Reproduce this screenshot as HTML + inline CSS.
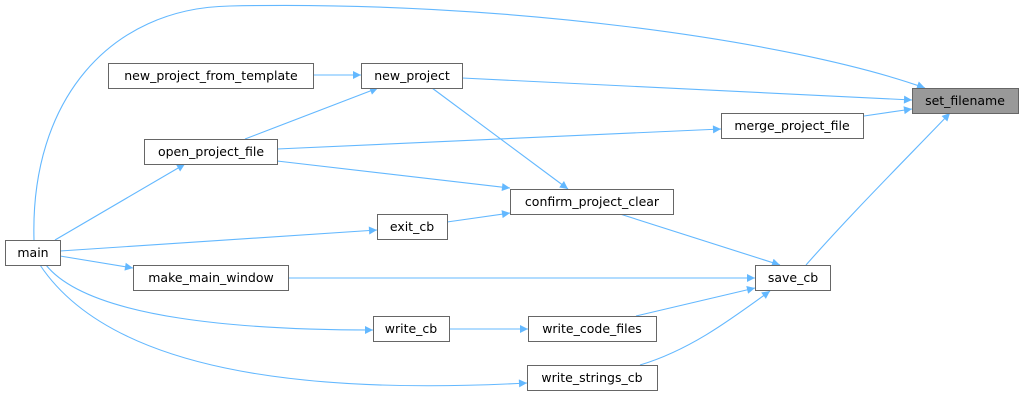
<!DOCTYPE html>
<html><head><meta charset="utf-8"><style>
html,body{margin:0;padding:0;background:#fff;width:1024px;height:400px;overflow:hidden}
svg text{font-family:"DejaVu Sans","Liberation Sans",sans-serif;font-size:12.5px;fill:#000;text-anchor:middle}
</style></head><body>
<svg width="1024" height="400" viewBox="0 0 1024 400" xmlns="http://www.w3.org/2000/svg">
<defs>
<marker id="a" viewBox="0 0 10 10" refX="10" refY="5" markerWidth="11" markerHeight="8" markerUnits="userSpaceOnUse" orient="auto">
<path d="M0,0 L10,5 L0,10 z" fill="#63b8ff"/>
</marker>
</defs>
<g fill="none" stroke="#63b8ff" stroke-width="1.1" marker-end="url(#a)">
<path d="M34,240 C30,100 110,8 230,6 C500,0 790,40 925,88"/>
<path d="M462,78 L912,100"/>
<path d="M864,116 L912,109"/>
<path d="M806,265 C850,215 900,165 950,113"/>
<path d="M313,75 L361,75"/>
<path d="M245,139 L378,88"/>
<path d="M277,149 L721,129"/>
<path d="M432,88 L568,189"/>
<path d="M277,161 L510,188"/>
<path d="M447,222 L510,213"/>
<path d="M620,214 L780,265"/>
<path d="M55,240 L185,164"/>
<path d="M60,251 L377,230"/>
<path d="M60,256 L133,268"/>
<path d="M288,278 L755,278"/>
<path d="M636,316 L755,288"/>
<path d="M640,365 C690,350 730,320 770,291"/>
<path d="M46,265 C90,320 250,330 373,330"/>
<path d="M449,329 L528,329"/>
<path d="M40,265 C110,370 300,395 527,383"/>
</g>
<g stroke="#666" stroke-width="1" fill="#fff">
<rect x="912.5" y="88.5" width="106" height="25" fill="#999"/>
<rect x="108.5" y="63.5" width="205" height="25"/>
<rect x="361.5" y="63.5" width="101" height="25"/>
<rect x="721.5" y="113.5" width="142" height="25"/>
<rect x="144.5" y="139.5" width="133" height="25"/>
<rect x="510.5" y="189.5" width="163" height="25"/>
<rect x="377.5" y="214.5" width="70" height="25"/>
<rect x="5.5" y="240.5" width="55" height="25"/>
<rect x="133.5" y="265.5" width="155" height="25"/>
<rect x="755.5" y="265.5" width="75" height="25"/>
<rect x="373.5" y="316.5" width="76" height="25"/>
<rect x="528.5" y="316.5" width="128" height="25"/>
<rect x="527.5" y="365.5" width="130" height="25"/>
</g>
<text x="965" y="105">set_filename</text>
<text x="211" y="80">new_project_from_template</text>
<text x="412" y="80">new_project</text>
<text x="792" y="130">merge_project_file</text>
<text x="211" y="156">open_project_file</text>
<text x="592" y="206">confirm_project_clear</text>
<text x="412" y="231">exit_cb</text>
<text x="33" y="257">main</text>
<text x="211" y="282">make_main_window</text>
<text x="793" y="282">save_cb</text>
<text x="411" y="333">write_cb</text>
<text x="592" y="333">write_code_files</text>
<text x="592" y="382">write_strings_cb</text>
</svg>
</body></html>
